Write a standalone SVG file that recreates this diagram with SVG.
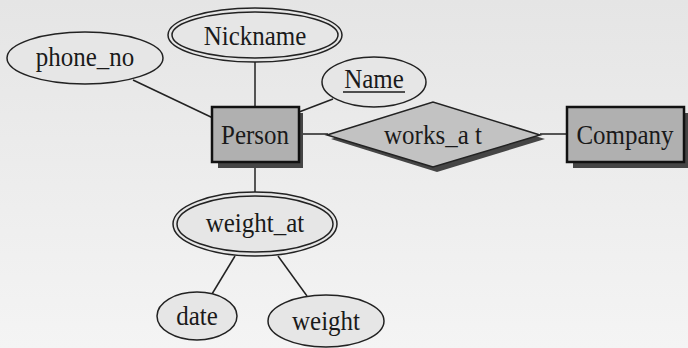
<svg xmlns="http://www.w3.org/2000/svg" width="688" height="348" viewBox="0 0 688 348">
<defs>
<linearGradient id="bg" x1="0" y1="0" x2="0" y2="1">
<stop offset="0" stop-color="#e5e5e5"/>
<stop offset="1" stop-color="#f4f4f4"/>
</linearGradient>
</defs>
<style>
.ln{stroke:#222;stroke-width:1.5;fill:none}
.el{fill:#e6e6e6;stroke:#222;stroke-width:1.5}
.ent{fill:#b0b0b0;stroke:#111;stroke-width:2.5}
.rel{fill:#c2c2c2;stroke:#222;stroke-width:1.5}
.sh{fill:#454545}
text{font-family:"Liberation Serif","Times New Roman",serif;font-size:25px;fill:#1a1a1a;text-anchor:middle}
</style>
<rect width="688" height="348" fill="url(#bg)"/>
<g id="connectors">
<line class="ln" x1="133" y1="80" x2="213" y2="118"/>
<line class="ln" x1="255" y1="62" x2="255" y2="107"/>
<line class="ln" x1="299" y1="112" x2="333" y2="99"/>
<line class="ln" x1="299" y1="134" x2="328" y2="134"/>
<line class="ln" x1="540" y1="134" x2="567" y2="134"/>
<line class="ln" x1="255" y1="162" x2="255" y2="192"/>
<line class="ln" x1="235" y1="256" x2="212" y2="294"/>
<line class="ln" x1="278" y1="256" x2="307" y2="296"/>
</g>
<g id="phone_no">
<ellipse class="el" cx="85" cy="58" rx="78" ry="26"/>
<text transform="translate(85,66) scale(1,1.12)">phone_no</text>
</g>
<g id="Nickname">
<ellipse class="el" cx="255" cy="35" rx="87" ry="27"/>
<ellipse class="el" cx="255" cy="35" rx="83" ry="23"/>
<text transform="translate(255,45) scale(1,1.12)">Nickname</text>
</g>
<g id="Name">
<ellipse class="el" cx="374" cy="82" rx="52" ry="25"/>
<text transform="translate(374,88) scale(1,1.12)">Name</text>
<line x1="343" y1="92" x2="405" y2="92" stroke="#1a1a1a" stroke-width="1.5"/>
</g>
<g id="Person">
<rect class="sh" x="218" y="113" width="85" height="55"/>
<rect class="ent" x="212" y="107" width="87" height="55"/>
<text transform="translate(255,144) scale(1,1.12)">Person</text>
</g>
<g id="works_at">
<polygon class="sh" points="331,139 437,106 545,139 437,172"/>
<polygon class="rel" points="327,135 433,102 540,135 433,167"/>
<text transform="translate(433,144) scale(1,1.12)">works_a t</text>
</g>
<g id="Company">
<rect class="sh" x="573" y="113" width="115" height="55"/>
<rect class="ent" x="567" y="107" width="117" height="55"/>
<text transform="translate(625,144) scale(1,1.12)">Company</text>
</g>
<g id="weight_at">
<ellipse class="el" cx="255" cy="224" rx="82" ry="32"/>
<ellipse class="el" cx="255" cy="224" rx="78" ry="28"/>
<text transform="translate(255,232) scale(1,1.12)">weight_at</text>
</g>
<g id="date">
<ellipse class="el" cx="197" cy="316" rx="40" ry="24"/>
<text transform="translate(197,325) scale(1,1.12)">date</text>
</g>
<g id="weight">
<ellipse class="el" cx="326" cy="321" rx="58" ry="26"/>
<text transform="translate(326,330) scale(1,1.12)">weight</text>
</g>
</svg>
